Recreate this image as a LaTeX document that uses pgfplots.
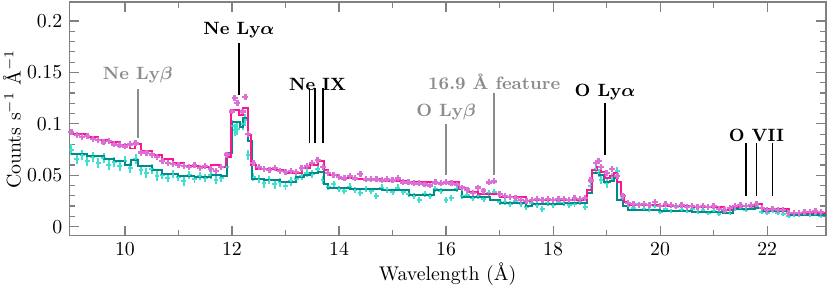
\documentclass[border=0pt]{standalone}
\usepackage{pgfplots}
\pgfplotsset{compat=1.18}
\usepackage{pgfplotstable}
\usepackage{bm}
\definecolor{dpink}{HTML}{FF1493}
\definecolor{orch}{HTML}{DA70D6}
\definecolor{turq}{HTML}{40E0D0}
\definecolor{dteal}{HTML}{008B8B}
\definecolor{lgray}{HTML}{8C8C8C}
\definecolor{axgray}{HTML}{808080}

\pgfplotstableread{
x y
9.0 0.090
9.3 0.087
9.5 0.084
9.7 0.082
9.9 0.079
10.1 0.076
10.18 0.080
10.3 0.074
10.5 0.070
10.7 0.066
10.9 0.062
11.1 0.059
11.4 0.058
11.6 0.060
11.75 0.058
11.88 0.068
11.98 0.113
12.13 0.109
12.2 0.115
12.3 0.089
12.35 0.060
12.45 0.056
12.8 0.055
13.0 0.052
13.3 0.057
13.45 0.060
13.6 0.064
13.72 0.055
13.8 0.050
14.0 0.047
14.3 0.046
14.8 0.044
15.3 0.043
15.8 0.042
16.0 0.043
16.25 0.038
16.4 0.034
16.6 0.032
17.0 0.029
17.5 0.025
17.6 0.026
18.64 0.036
18.73 0.055
18.82 0.058
18.9 0.053
18.97 0.047
19.07 0.049
19.13 0.052
19.2 0.043
19.26 0.031
19.32 0.024
19.4 0.021
20.0 0.020
20.6 0.019
21.2 0.016
21.35 0.019
21.5 0.020
21.78 0.022
21.9 0.017
22.4 0.013
23.1 0.013
}\pinkmodel

\pgfplotstableread{
x y
9.0 0.071
9.3 0.069
9.6 0.066
9.8 0.064
10.0 0.060
10.12 0.065
10.25 0.059
10.5 0.055
10.7 0.051
11.0 0.049
11.3 0.048
11.6 0.050
11.8 0.049
11.9 0.072
12.0 0.102
12.15 0.097
12.2 0.106
12.3 0.083
12.38 0.046
12.6 0.045
12.9 0.043
13.2 0.048
13.35 0.050
13.45 0.052
13.6 0.053
13.72 0.041
13.8 0.038
14.2 0.037
14.8 0.036
15.3 0.031
15.77 0.036
16.2 0.037
16.3 0.029
16.83 0.026
17.0 0.023
17.5 0.020
17.6 0.022
18.2 0.023
18.64 0.033
18.73 0.052
18.85 0.050
18.95 0.043
19.07 0.044
19.13 0.047
19.2 0.026
19.3 0.020
19.4 0.016
20.0 0.015
20.6 0.014
21.17 0.013
21.36 0.017
21.78 0.018
21.9 0.015
22.4 0.011
23.1 0.011
}\tealmodel

\pgfplotstableread{
x y
9.0 0.092
9.1 0.089
9.2 0.087
9.3 0.088
9.4 0.085
9.5 0.084
9.6 0.082
9.7 0.083
9.8 0.080
9.9 0.079
10.0 0.078
10.1 0.080
10.2 0.081
10.3 0.072
10.4 0.072
10.5 0.070
10.6 0.068
10.7 0.064
10.8 0.062
10.9 0.061
11.0 0.060
11.1 0.059
11.2 0.058
11.3 0.060
11.4 0.057
11.5 0.059
11.6 0.056
11.7 0.054
11.8 0.058
11.9 0.070
12.0 0.112
12.05 0.125
12.1 0.120
12.2 0.112
12.25 0.126
12.3 0.090
12.4 0.062
12.5 0.058
12.6 0.056
12.7 0.055
12.8 0.057
12.9 0.054
13.0 0.053
13.1 0.054
13.2 0.053
13.3 0.057
13.4 0.059
13.5 0.062
13.6 0.065
13.7 0.058
13.8 0.052
13.9 0.050
14.0 0.048
14.1 0.047
14.2 0.049
14.3 0.047
14.4 0.051
14.5 0.046
14.6 0.046
14.7 0.046
14.8 0.045
14.9 0.046
15.0 0.045
15.1 0.047
15.2 0.043
15.3 0.043
15.4 0.042
15.5 0.042
15.6 0.041
15.7 0.040
15.8 0.043
15.9 0.042
16.0 0.043
16.1 0.042
16.2 0.041
16.3 0.038
16.4 0.036
16.5 0.033
16.6 0.038
16.7 0.035
16.8 0.043
16.9 0.044
17.0 0.032
17.1 0.030
17.2 0.029
17.3 0.028
17.4 0.026
17.5 0.025
17.6 0.026
17.7 0.027
17.8 0.026
17.9 0.027
18.0 0.026
18.1 0.027
18.2 0.027
18.3 0.026
18.4 0.028
18.5 0.027
18.6 0.028
18.7 0.045
18.8 0.062
18.85 0.064
18.9 0.058
19.0 0.052
19.1 0.056
19.2 0.049
19.3 0.030
19.4 0.023
19.5 0.022
19.6 0.021
19.7 0.022
19.8 0.021
19.9 0.024
20.0 0.020
20.1 0.022
20.2 0.021
20.3 0.020
20.4 0.021
20.5 0.019
20.6 0.020
20.7 0.019
20.8 0.020
20.9 0.019
21.0 0.020
21.1 0.017
21.2 0.016
21.3 0.018
21.4 0.020
21.5 0.021
21.6 0.020
21.7 0.021
21.8 0.022
21.9 0.018
22.0 0.016
22.1 0.017
22.2 0.016
22.3 0.016
22.4 0.013
22.5 0.013
22.6 0.013
22.7 0.014
22.8 0.014
22.9 0.015
23.0 0.014
}\pinkdata

\pgfplotstableread{
x y e
9.0 0.075 0.005
9.1 0.066 0.005
9.2 0.070 0.005
9.3 0.064 0.005
9.4 0.068 0.005
9.5 0.062 0.005
9.6 0.067 0.005
9.7 0.060 0.005
9.8 0.063 0.005
9.9 0.059 0.005
10.0 0.064 0.005
10.1 0.057 0.005
10.2 0.066 0.005
10.3 0.055 0.005
10.4 0.052 0.005
10.5 0.056 0.005
10.6 0.049 0.005
10.7 0.050 0.004
10.8 0.047 0.004
10.9 0.051 0.004
11.0 0.048 0.004
11.1 0.044 0.004
11.2 0.050 0.004
11.3 0.046 0.004
11.4 0.049 0.004
11.5 0.047 0.004
11.6 0.050 0.004
11.7 0.045 0.004
11.8 0.047 0.004
11.9 0.058 0.004
12.0 0.098 0.006
12.05 0.094 0.006
12.1 0.095 0.006
12.2 0.100 0.006
12.25 0.104 0.006
12.3 0.070 0.005
12.4 0.048 0.004
12.5 0.046 0.004
12.6 0.042 0.004
12.7 0.045 0.004
12.8 0.041 0.004
12.9 0.043 0.004
13.0 0.040 0.004
13.1 0.044 0.004
13.2 0.046 0.004
13.3 0.049 0.004
13.4 0.052 0.004
13.5 0.051 0.004
13.6 0.056 0.004
13.7 0.045 0.004
13.8 0.039 0.003
13.9 0.041 0.003
14.0 0.037 0.003
14.1 0.035 0.003
14.2 0.039 0.003
14.3 0.036 0.003
14.4 0.033 0.003
14.5 0.037 0.003
14.6 0.035 0.003
14.7 0.030 0.003
14.8 0.038 0.003
14.9 0.036 0.003
15.0 0.034 0.003
15.1 0.038 0.003
15.2 0.034 0.003
15.3 0.032 0.003
15.4 0.030 0.003
15.5 0.026 0.003
15.6 0.032 0.003
15.7 0.030 0.003
15.8 0.037 0.003
15.9 0.035 0.003
16.0 0.026 0.003
16.1 0.028 0.003
16.2 0.037 0.003
16.3 0.030 0.003
16.4 0.031 0.003
16.5 0.028 0.003
16.6 0.030 0.003
16.7 0.027 0.003
16.8 0.033 0.003
16.9 0.034 0.003
17.0 0.024 0.003
17.1 0.024 0.003
17.2 0.022 0.003
17.3 0.025 0.003
17.4 0.022 0.003
17.5 0.019 0.003
17.6 0.023 0.003
17.7 0.021 0.003
17.8 0.017 0.003
17.9 0.023 0.003
18.0 0.021 0.003
18.1 0.024 0.003
18.2 0.023 0.003
18.3 0.021 0.003
18.4 0.022 0.003
18.5 0.024 0.003
18.6 0.019 0.003
18.7 0.040 0.004
18.8 0.056 0.004
18.85 0.052 0.004
18.9 0.045 0.004
19.0 0.042 0.004
19.1 0.048 0.004
19.2 0.054 0.004
19.3 0.027 0.003
19.4 0.020 0.002
19.5 0.018 0.002
19.6 0.022 0.002
19.7 0.017 0.002
19.8 0.016 0.002
19.9 0.020 0.002
20.0 0.014 0.002
20.1 0.017 0.002
20.2 0.015 0.002
20.3 0.019 0.002
20.4 0.016 0.002
20.5 0.015 0.002
20.6 0.017 0.002
20.7 0.014 0.002
20.8 0.016 0.002
20.9 0.013 0.002
21.0 0.015 0.002
21.1 0.012 0.002
21.2 0.014 0.002
21.3 0.013 0.002
21.4 0.017 0.002
21.5 0.018 0.002
21.6 0.016 0.002
21.7 0.019 0.002
21.8 0.020 0.002
21.9 0.014 0.002
22.0 0.013 0.002
22.1 0.015 0.002
22.2 0.013 0.002
22.3 0.012 0.002
22.4 0.010 0.002
22.5 0.011 0.002
22.6 0.011 0.002
22.7 0.012 0.002
22.8 0.011 0.002
22.9 0.012 0.002
23.0 0.010 0.002
}\cyandata

\begin{document}
\begin{tikzpicture}
\begin{axis}[
  scale only axis,
  width=382.4pt, height=118.2pt,
  xmin=8.96, xmax=23.1,
  ymin=-0.009, ymax=0.2185,
  xtick={10,12,14,16,18,20,22},
  ytick={0,0.05,0.1,0.15,0.2},
  minor x tick num=1,
  minor y tick num=4,
  tick pos=both,
  tick align=inside,
  major tick length=5pt,
  minor tick length=3pt,
  axis line style={color=axgray, line width=0.6pt},
  tick style={color=axgray, line width=0.6pt},
  scaled y ticks=false,
  yticklabel style={/pgf/number format/fixed},
  xlabel={Wavelength (Å)},
  ylabel={Counts s$^{-1}$ Å$^{-1}$},
  xlabel style={at={(axis description cs:0.5,-0.1625)}, anchor=center},
  ylabel style={at={(axis description cs:-0.0758,0.5)}, anchor=center},
]
\coordinate (bl) at (rel axis cs:0,0);
\coordinate (tr) at (rel axis cs:1,1);
\addplot[only marks, mark=*, mark size=0.3pt, color=turq,
  error bars/.cd, x dir=both, x fixed=0.045, y dir=both, y explicit, error mark=none,
  error bar style={color=turq, line width=1pt}]
  table[x=x, y=y, y error=e] {\cyandata};
\addplot[only marks, mark=+, mark size=1.5pt, color=orch, line width=1.2pt] table[x=x,y=y] {\pinkdata};
\addplot[const plot, color=dteal, line width=1pt] table[x=x,y=y] {\tealmodel};
\addplot[const plot, color=dpink, line width=1pt] table[x=x,y=y] {\pinkmodel};

\draw[color=black, line width=0.9pt] (axis cs:12.13,0.128) -- (axis cs:12.13,0.179);
\node[font=\small\bfseries] at (axis cs:12.13,0.191) {Ne Ly$\bm{\alpha}$};
\draw[color=lgray, line width=0.9pt] (axis cs:10.24,0.086) -- (axis cs:10.24,0.134);
\node[font=\small\bfseries, text=lgray] at (axis cs:10.24,0.147) {Ne Ly$\bm{\beta}$};
\draw[color=black, line width=0.9pt] (axis cs:13.45,0.081) -- (axis cs:13.45,0.135);
\draw[color=black, line width=0.9pt] (axis cs:13.55,0.081) -- (axis cs:13.55,0.135);
\draw[color=black, line width=0.9pt] (axis cs:13.70,0.081) -- (axis cs:13.70,0.135);
\node[font=\small\bfseries] at (axis cs:13.6,0.138) {Ne IX};
\draw[color=lgray, line width=0.9pt] (axis cs:16.0,0.050) -- (axis cs:16.0,0.100);
\node[font=\small\bfseries, text=lgray] at (axis cs:16.0,0.111) {O Ly$\bm{\beta}$};
\draw[color=lgray, line width=0.9pt] (axis cs:16.9,0.050) -- (axis cs:16.9,0.130);
\node[font=\small\bfseries, text=lgray] at (axis cs:16.9,0.141) {16.9 Å feature};
\draw[color=black, line width=0.9pt] (axis cs:18.97,0.070) -- (axis cs:18.97,0.120);
\node[font=\small\bfseries] at (axis cs:18.97,0.131) {O Ly$\bm{\alpha}$};
\draw[color=black, line width=0.9pt] (axis cs:21.60,0.030) -- (axis cs:21.60,0.081);
\draw[color=black, line width=0.9pt] (axis cs:21.80,0.030) -- (axis cs:21.80,0.081);
\draw[color=black, line width=0.9pt] (axis cs:22.10,0.030) -- (axis cs:22.10,0.081);
\node[font=\small\bfseries] at (axis cs:21.8,0.089) {O VII};
\end{axis}
\pgfresetboundingbox
\path[use as bounding box] ([xshift=-35pt,yshift=-24.8pt]bl) rectangle ([xshift=2pt,yshift=1pt]tr);
\end{tikzpicture}
\end{document}
